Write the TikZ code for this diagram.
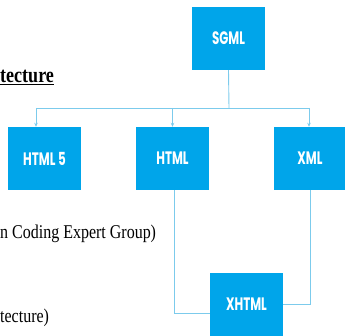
\documentclass[tikz,border=0pt]{standalone}
\usepackage{fontspec}
\usepackage{tikz}
\usetikzlibrary{arrows.meta}
\setmainfont{Liberation Serif}
\newfontfamily\boxfont[FakeStretch=0.66]{Poppins}
\newfontfamily\serifnarrow[FakeStretch=0.82]{Liberation Serif}
\definecolor{boxblue}{HTML}{00A5EA}
\definecolor{lineblue}{HTML}{7CCBEC}

\begin{document}
\begin{tikzpicture}[x=1pt,y=-1pt,
  lang/.style={fill=boxblue,minimum width=73pt,minimum height=63pt,inner sep=0pt,
    text=white,font=\boxfont\bfseries\fontsize{18}{18}\selectfont},
  link/.style={lineblue,line width=0.9pt},
  label/.style={anchor=base west,inner sep=0pt,font=\serifnarrow\fontsize{19.5}{19.5}\selectfont}]
\useasboundingbox (0,0) rectangle (345,336);
\node[lang] (sgml) at (228.5,38.5) {SGML};
\node[lang] (html5) at (44.5,158.5) {HTML 5};
\node[lang] (html) at (172.5,158.5) {HTML};
\node[lang] (xml) at (310,158.5) {XML};
\node[lang] (xhtml) at (246.5,304.5) {XHTML};
% bus below SGML
\coordinate (split) at (229,108);
\coordinate (left) at (36,108);
\coordinate (right) at (309,108);
\draw[link] (sgml.south) -- (split);
\draw[link] (left) -- (right);
\draw[link,-{Stealth[length=4pt,width=3.5pt]}] (left) -- (left |- html5.north);
\draw[link,-{Stealth[length=4pt,width=3.5pt]}] (html.north |- split) -- (html.north);
\draw[link,-{Stealth[length=4pt,width=3.5pt]}] (right) -- (right |- xml.north);
% joins into XHTML
\draw[link] ([xshift=1.5pt]html.south) |- ([yshift=-8.5pt]xhtml.west);
\draw[link] (xml.south) |- (xhtml.east);
% text on the left
\node[label,font=\serifnarrow\bfseries\fontsize{22}{22}\selectfont] (arch) at (0,83) {\underline{tecture}};
\node[label] (group) at (0,239) {n Coding Expert Group)};
\node[label] (archb) at (0,323) {tecture)};
\end{tikzpicture}
\end{document}
